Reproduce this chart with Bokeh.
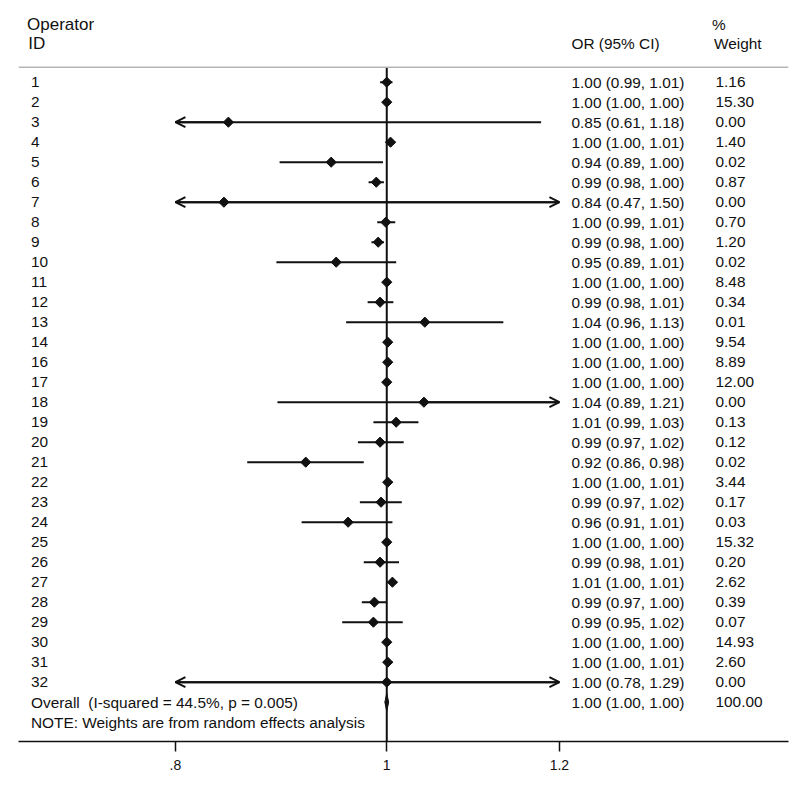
import numpy as np
from bokeh.plotting import figure
from bokeh.models import (ColumnDataSource, Range1d, LinearScale, FixedTicker,
                          Span, Arrow, OpenHead)
from bokeh.core.properties import value
from bokeh.embed import file_html
from bokeh.resources import INLINE

# ---------------- data ----------------
ids = ["1", "2", "3", "4", "5", "6", "7", "8", "9", "10", "11", "12", "13", "14",
       "16", "17", "18", "19", "20", "21", "22", "23", "24", "25", "26", "27",
       "28", "29", "30", "31", "32"]
or_est = [1.000, 1.000, 0.846, 1.004, 0.943, 0.989, 0.842, 0.999, 0.991, 0.948,
          1.000, 0.993, 1.041, 1.001, 1.001, 1.000, 1.040, 1.010, 0.993, 0.918,
          1.001, 0.994, 0.960, 1.000, 0.993, 1.006, 0.987, 0.986, 1.000, 1.001,
          1.000]
ci_lo = [0.993, 0.998, 0.610, 0.999, 0.893, 0.981, 0.470, 0.990, 0.984, 0.890,
         0.998, 0.980, 0.958, 0.998, 0.998, 0.998, 0.891, 0.986, 0.970, 0.863,
         0.998, 0.972, 0.914, 0.998, 0.976, 1.001, 0.974, 0.954, 0.998, 0.998,
         0.780]
ci_hi = [1.006, 1.002, 1.177, 1.009, 0.996, 0.997, 1.502, 1.009, 0.997, 1.010,
         1.002, 1.007, 1.131, 1.003, 1.003, 1.002, 1.210, 1.034, 1.018, 0.976,
         1.006, 1.016, 1.006, 1.002, 1.013, 1.011, 1.000, 1.017, 1.002, 1.006,
         1.290]
weight = [1.16, 15.30, 0.00, 1.40, 0.02, 0.87, 0.00, 0.70, 1.20, 0.02,
          8.48, 0.34, 0.01, 9.54, 8.89, 12.00, 0.00, 0.13, 0.12, 0.02,
          3.44, 0.17, 0.03, 15.32, 0.20, 2.62, 0.39, 0.07, 14.93, 2.60,
          0.00]
overall_or, overall_lo, overall_hi, overall_w = 1.000, 0.998, 1.002, 100.00
i_squared, p_het = 44.5, 0.005
axis_ticks = [0.8, 1.0, 1.2]
axis_labels = [".8", "1", "1.2"]

# ---------------- styling ----------------
FONT = "Liberation Sans"
FS = "15.4px"
INK = "#111111"

n = len(ids)
rows = list(range(1, n + 1))
row_overall = n + 1
row_note = n + 2

x_min, x_max = axis_ticks[0], axis_ticks[-1]
lo_c = [max(v, x_min) for v in ci_lo]
hi_c = [min(v, x_max) for v in ci_hi]

p = figure(width=796, height=780, x_axis_type="log",
           x_range=Range1d(0.67783, 1.52838), y_range=Range1d(33.965, -2.685),
           output_backend="svg", toolbar_location=None,
           min_border_left=18, min_border_right=8, min_border_top=8,
           min_border_bottom=39, y_axis_location=None)
p.extra_x_ranges = {"txt": Range1d(0, 770)}
p.extra_x_scales = {"txt": LinearScale()}
p.xgrid.visible = False
p.ygrid.visible = False
p.outline_line_color = None
p.background_fill_color = "white"
p.border_fill_color = "white"

# header separator line
p.add_layout(Span(location=0.25, dimension="width", line_color="#b5b5b5",
                  line_width=1.5))

# null line at OR = 1
p.segment(x0=[1.0], y0=[0.25], x1=[1.0], y1=[33.965], line_color=INK,
          line_width=2)

# CI lines
src = ColumnDataSource(dict(row=rows, est=or_est, lo=lo_c, hi=hi_c))
p.segment(x0="lo", y0="row", x1="hi", y1="row", source=src, line_color=INK,
          line_width=2)

# arrows for clipped CIs
left_idx = [i for i in range(n) if ci_lo[i] < x_min]
right_idx = [i for i in range(n) if ci_hi[i] > x_max]
if left_idx:
    lsrc = ColumnDataSource(dict(xs=[or_est[i] for i in left_idx],
                                 xe=[x_min] * len(left_idx),
                                 y=[rows[i] for i in left_idx]))
    p.add_layout(Arrow(end=OpenHead(size=10, line_width=2, line_color=INK),
                       x_start="xs", y_start="y", x_end="xe", y_end="y",
                       source=lsrc, line_width=2, line_color=INK))
if right_idx:
    rsrc = ColumnDataSource(dict(xs=[or_est[i] for i in right_idx],
                                 xe=[x_max] * len(right_idx),
                                 y=[rows[i] for i in right_idx]))
    p.add_layout(Arrow(end=OpenHead(size=10, line_width=2, line_color=INK),
                       x_start="xs", y_start="y", x_end="xe", y_end="y",
                       source=rsrc, line_width=2, line_color=INK))

# point estimates (diamonds)
p.scatter(x="est", y="row", source=src, marker="square", angle=np.pi / 4,
          size=7.2, fill_color=INK, line_color=INK)

# overall diamond
p.patch(x=[overall_lo, overall_or, overall_hi, overall_or],
        y=[row_overall, row_overall - 0.45, row_overall, row_overall + 0.45],
        fill_color=INK, line_color=INK, line_width=1)

# ---------------- texts ----------------
def txt(x, y, labels, size=FS):
    s = ColumnDataSource(dict(x=x, y=y, t=labels))
    p.text(x="x", y="y", text="t", source=s, x_range_name="txt",
           text_font=value(FONT), text_font_size=size, text_color=INK,
           text_baseline="middle", text_align="left")

X_ID, X_OR, X_W = 12.5, 553, 697

txt([8.5, 9.7], [-1.9, -0.95], ["Operator", "ID"], size="17px")
txt([X_OR], [-0.95], ["OR (95% CI)"])
txt([693.5, 695.5], [-1.9, -0.95], ["%", "Weight"])

txt([X_ID] * n, rows, ids)
or_txt = [f"{e:.2f} ({l:.2f}, {h:.2f})" for e, l, h in zip(or_est, ci_lo, ci_hi)]
txt([X_OR] * n, rows, or_txt)
txt([X_W] * n, rows, [f"{w:.2f}" for w in weight])

txt([X_ID], [row_overall],
    [f"Overall\u00a0 (I-squared = {i_squared:.1f}%, p = {p_het:.3f})"])
txt([X_OR], [row_overall],
    [f"{overall_or:.2f} ({overall_lo:.2f}, {overall_hi:.2f})"])
txt([X_W], [row_overall], [f"{overall_w:.2f}"])
txt([X_ID], [row_note], ["NOTE: Weights are from random effects analysis"])

# ---------------- axis ----------------
ax = p.xaxis[0]
ax.ticker = FixedTicker(ticks=axis_ticks)
ax.major_label_overrides = {t: l for t, l in zip(axis_ticks, axis_labels)}
ax.major_tick_in = 0
ax.major_tick_out = 10
ax.minor_tick_in = 0
ax.minor_tick_out = 0
ax.axis_line_width = 1.5
ax.axis_line_color = INK
ax.major_tick_line_width = 1.5
ax.major_tick_line_color = INK
ax.major_label_standoff = 8
ax.major_label_text_font = FONT
ax.major_label_text_font_size = "14px"
ax.major_label_text_color = INK

open("out.html", "w").write(file_html(p, INLINE))
